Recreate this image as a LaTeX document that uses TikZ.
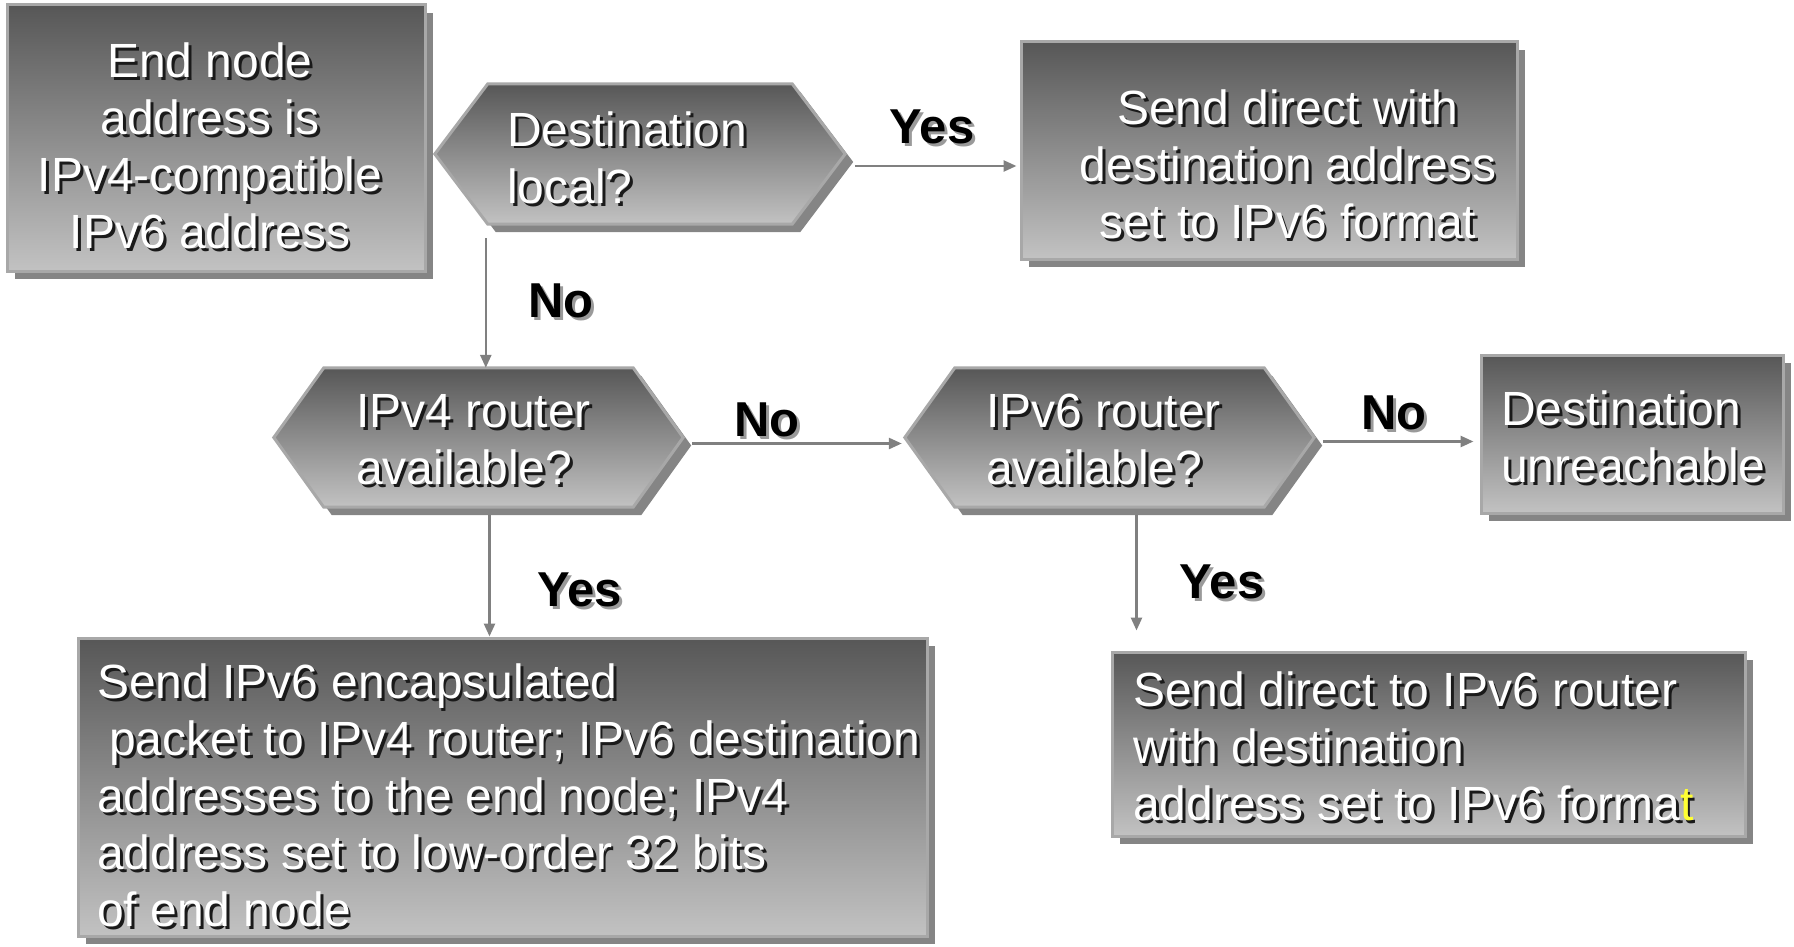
\documentclass[tikz,border=0pt]{standalone}
\usepackage{fontspec}
\setmainfont{Liberation Sans}
\usetikzlibrary{arrows.meta,shadows}

\definecolor{shtop}{HTML}{575757}
\definecolor{shbot}{HTML}{C2C2C2}
\definecolor{edgec}{HTML}{A8A8A8}
\definecolor{dropc}{HTML}{858585}
\definecolor{txtshadow}{HTML}{1A1A1A}
\definecolor{lblshadow}{HTML}{9A9A9A}
\definecolor{arrowc}{HTML}{808080}
\definecolor{hilite}{HTML}{FFFF33}

% white panel text with a dark drop shadow
\newcommand\shd[2][white]{\rlap{\kern2.8pt\raisebox{-2.8pt}{\textcolor{txtshadow}{#2}}}\textcolor{#1}{#2}}
% black branch label with a grey drop shadow
\newcommand\lbl[1]{\rlap{\kern3pt\raisebox{-3pt}{\textcolor{lblshadow}{#1}}}#1}
\newcommand\topstrut{\rule{0pt}{40pt}}

% elongated hexagon (decision panel) around an invisible node
\newcommand\hexpanel[2]{%
  \fill[dropc, transform canvas={shift={(8pt,-8pt)}}]
    (#1.west) -- ([xshift=#2]#1.north west) -- ([xshift=-#2]#1.north east) -- (#1.east)
    -- ([xshift=-#2]#1.south east) -- ([xshift=#2]#1.south west) -- cycle;
  \path[panelpath]
    (#1.west) -- ([xshift=#2]#1.north west) -- ([xshift=-#2]#1.north east) -- (#1.east)
    -- ([xshift=-#2]#1.south east) -- ([xshift=#2]#1.south west) -- cycle;}

\begin{document}
\begin{tikzpicture}[x=1pt, y=-1pt,
  panel/.style={rectangle, draw=edgec, line width=3pt, top color=shtop, bottom color=shbot,
    inner sep=0pt, drop shadow={shadow xshift=8pt, shadow yshift=-8pt, fill=dropc, opacity=1}},
  panelpath/.style={draw=edgec, line width=3pt, line join=miter, top color=shtop, bottom color=shbot},
  hexslot/.style={rectangle, inner sep=0pt, minimum width=409pt, minimum height=139pt},
  txt/.style={inner sep=0pt, font=\fontsize{48pt}{57pt}\selectfont},
  lblstyle/.style={inner sep=0pt, anchor=base, font=\fontsize{49pt}{57pt}\selectfont\bfseries},
  arr/.style={draw=arrowc, line width=2.6pt, -{Triangle[length=13pt, width=11pt]}}
]
\useasboundingbox (0,0) rectangle (1794,947);

% rectangular panels
\node[panel, minimum width=418pt, minimum height=266pt] (A) at (216,138) {};
\node[panel, minimum width=496pt, minimum height=217pt] (C) at (1269,150.5) {};
\node[panel, minimum width=302pt, minimum height=158pt] (F) at (1632,434) {};
\node[panel, minimum width=849pt, minimum height=298pt] (G) at (502.5,787) {};
\node[panel, minimum width=633pt, minimum height=184pt] (H) at (1428.5,744) {};

% decision panels
\node[hexslot, minimum width=410pt, minimum height=140pt] (B) at (640,154) {};
\node[hexslot] (D) at (478.5,437.5) {};
\node[hexslot] (E) at (1109.5,437.5) {};
\hexpanel{B}{53pt}
\hexpanel{D}{50pt}
\hexpanel{E}{50pt}

% panel texts
\node[txt, anchor=north, align=center] (A-text) at (210,37)
  {\topstrut\shd{End node}\\\shd{address is}\\\shd{IPv4-compatible}\\\shd{IPv6 address}};
\node[txt, anchor=north west, align=left] (B-text) at (507,106)
  {\topstrut\shd{Destination}\\\shd{local?}};
\node[txt, anchor=north, align=center] (C-text) at (1288,84)
  {\topstrut\shd{Send direct with}\\\shd{destination address}\\\shd{set to IPv6 format}};
\node[txt, anchor=north west, align=left] (D-text) at (356,387)
  {\topstrut\shd{IPv4 router}\\\shd{available?}};
\node[txt, anchor=north west, align=left] (E-text) at (986,387)
  {\topstrut\shd{IPv6 router}\\\shd{available?}};
\node[txt, anchor=north west, align=left] (F-text) at (1501,385)
  {\topstrut\shd{Destination}\\\shd{unreachable}};
\node[txt, anchor=north west, align=left] (G-text) at (97,658)
  {\topstrut\shd{Send IPv6 encapsulated}\\
   \hspace*{12pt}\shd{packet to IPv4 router; IPv6 destination}\\
   \shd{addresses to the end node; IPv4}\\
   \shd{address set to low-order 32 bits}\\
   \shd{of end node}};
\node[txt, anchor=north west, align=left] (H-text) at (1133,666)
  {\topstrut\shd{Send direct to IPv6 router}\\
   \shd{with destination}\\
   \shd{address set to IPv6 forma}\shd[hilite]{t}};

% connectors
\draw[arr, shorten >=3pt] ([xshift=10pt,yshift=-12pt]B.east) -- ([yshift=-12pt]B.east -| C.west);
\draw[arr] (B.south west) ++(51pt,-14pt) coordinate (bd) -- (bd |- D.north);
\draw[arr, shorten >=3pt] ([xshift=9pt,yshift=-6pt]D.east) -- ([yshift=-6pt]D.east -| E.west);
\draw[arr] ([xshift=11pt,yshift=-8pt]D.south) coordinate (dg) -- (dg |- G.north);
\draw[arr] ([xshift=27pt,yshift=-8pt]E.south) coordinate (eh) -- ([yshift=20pt]eh |- H.north);
\draw[arr, shorten >=6pt] ([xshift=9pt,yshift=-4pt]E.east) -- ([yshift=-4pt]E.east -| F.west);

% branch labels
\node[lblstyle] (yes-bc) at (932,144) {\lbl{Yes}};
\node[lblstyle] (no-bd) at (561,317) {\lbl{No}};
\node[lblstyle] (no-de) at (767,436) {\lbl{No}};
\node[lblstyle] (yes-dg) at (580,606) {\lbl{Yes}};
\node[lblstyle] (yes-eh) at (1222,598) {\lbl{Yes}};
\node[lblstyle] (no-ef) at (1394,429) {\lbl{No}};
\end{tikzpicture}
\end{document}
